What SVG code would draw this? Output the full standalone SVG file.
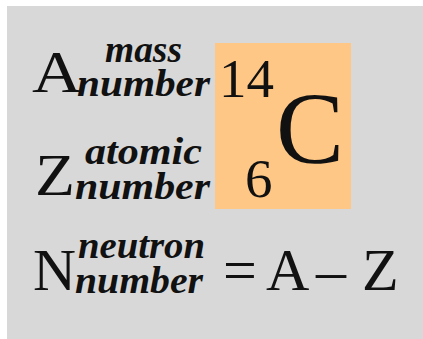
<svg xmlns="http://www.w3.org/2000/svg" width="423" height="339" viewBox="0 0 423 339">
<style>
text{font-family:"Liberation Serif",serif !important;fill:#111}
.big{font-size:60px}
.lab{font-size:38px;font-weight:bold;font-style:italic}
.num{font-size:55px}
.sym{font-size:102px}
</style>
<rect x="0" y="0" width="423" height="339" fill="#ffffff"/>
<rect x="7" y="6" width="416" height="333" fill="#d8d8d8"/>
<g id="mass-row">
<text class="big" x="32" y="92" textLength="50" lengthAdjust="spacingAndGlyphs">A</text>
<text class="lab" x="105" y="62" textLength="77" lengthAdjust="spacingAndGlyphs">mass</text>
<text class="lab" x="77" y="96" textLength="133" lengthAdjust="spacingAndGlyphs">number</text>
</g>
<g id="atomic-row">
<text class="big" x="35" y="195" textLength="40" lengthAdjust="spacingAndGlyphs">Z</text>
<text class="lab" x="85" y="164" textLength="117" lengthAdjust="spacingAndGlyphs">atomic</text>
<text class="lab" x="75" y="199" textLength="135" lengthAdjust="spacingAndGlyphs">number</text>
</g>
<g id="carbon">
<rect x="215" y="43" width="136" height="166" fill="#ffc785"/>
<text class="num" x="219" y="97">14</text>
<text class="num" x="245" y="197">6</text>
<text class="sym" x="276" y="163">C</text>
</g>
<g id="neutron-row">
<text class="big" x="33" y="290" textLength="43" lengthAdjust="spacingAndGlyphs">N</text>
<text class="lab" x="78" y="258" textLength="127" lengthAdjust="spacingAndGlyphs">neutron</text>
<text class="lab" x="75" y="293" textLength="128" lengthAdjust="spacingAndGlyphs">number</text>
<text class="big" x="223" y="290">=</text>
<text class="big" x="266" y="290">A</text>
<text class="big" x="316" y="290">–</text>
<text class="big" x="362" y="290">Z</text>
</g>
</svg>
